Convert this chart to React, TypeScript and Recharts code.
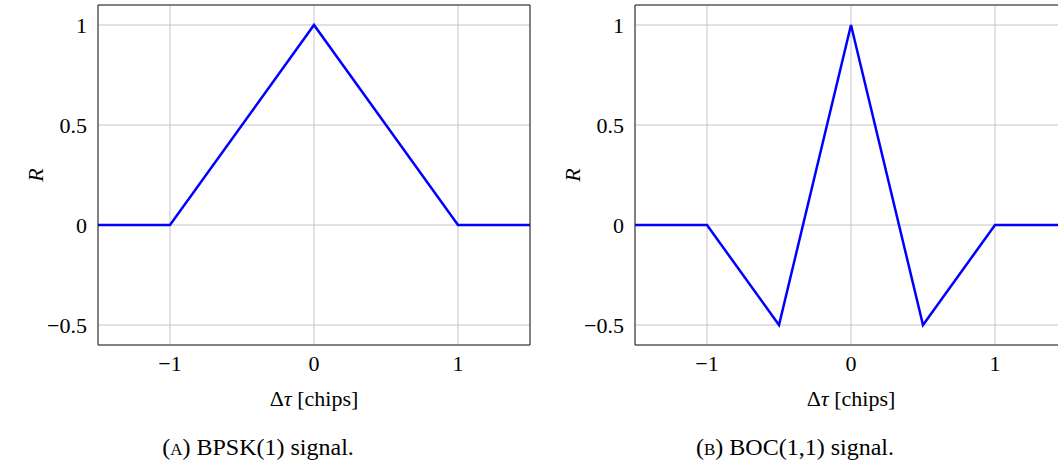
import React from 'react';
import { LineChart, Line, XAxis, YAxis, CartesianGrid } from 'recharts';

// correlation functions, delay in chips
const bpskDelay = [-1.5, -1, 0, 1, 1.5];
const bpskR = [0, 0, 1, 0, 0];
const bocDelay = [-1.5, -1, -0.5, 0, 0.5, 1, 1.5];
const bocR = [0, 0, -0.5, 1, -0.5, 0, 0];

const xTicks = [-1, 0, 1];
const yTicks = [-0.5, 0, 0.5, 1];
const xDomain = [-1.5, 1.5];
const yDomain = [-0.6, 1.1];

const FONT = '"Liberation Serif", "DejaVu Serif", serif';
const fmt = (v: number) => (v < 0 ? `\u2212${Math.abs(v)}` : `${v}`);

const toRows = (xs: number[], ys: number[]) => xs.map((x, i) => ({ x, r: ys[i] }));

const CorrPlot: React.FC<{ data: Array<{ x: number; r: number }> }> = ({ data }) => {
  const tickStyle = { fontFamily: FONT, fontSize: 22, fill: '#000' };
  return (
    <LineChart width={540} height={420} data={data} margin={{ top: 5, right: 10, left: 0, bottom: 0 }}>
      <CartesianGrid xAxisId="b" yAxisId="l" stroke="#c4c4c4" strokeWidth={1} />
      <XAxis
        xAxisId="b"
        dataKey="x"
        type="number"
        domain={xDomain}
        ticks={xTicks}
        allowDataOverflow
        height={75}
        tickSize={0}
        tickMargin={10}
        tickFormatter={fmt}
        tick={tickStyle}
        axisLine={{ stroke: '#222' }}
        label={{
          content: ({ viewBox }: any) => (
            <text
              x={viewBox.x + viewBox.width / 2}
              y={viewBox.y + 61}
              textAnchor="middle"
              fontFamily={FONT}
              fontSize={22}
            >
              {'\u0394'}
              <tspan fontStyle="italic">{'\u03C4'}</tspan>
              {' [chips]'}
            </text>
          ),
        }}
      />
      <XAxis
        xAxisId="bm"
        type="number"
        domain={xDomain}
        ticks={xTicks}
        allowDataOverflow
        mirror
        tickSize={11}
        tick={false}
        axisLine={false}
        tickLine={{ stroke: '#555' }}
      />
      <XAxis
        xAxisId="t"
        orientation="top"
        type="number"
        domain={xDomain}
        ticks={xTicks}
        allowDataOverflow
        mirror
        tickSize={11}
        tick={false}
        axisLine={{ stroke: '#222' }}
        tickLine={{ stroke: '#555' }}
      />
      <YAxis
        yAxisId="l"
        type="number"
        domain={yDomain}
        ticks={yTicks}
        allowDataOverflow
        width={98}
        tickSize={0}
        tickMargin={11}
        tickFormatter={fmt}
        tick={tickStyle}
        axisLine={{ stroke: '#222' }}
        label={{
          content: ({ viewBox }: any) => {
            const cx = viewBox.x + 35;
            const cy = viewBox.y + viewBox.height / 2;
            return (
              <text
                x={cx}
                y={cy}
                transform={`rotate(-90, ${cx}, ${cy})`}
                textAnchor="middle"
                dominantBaseline="central"
                fontFamily={FONT}
                fontStyle="italic"
                fontSize={22}
              >
                R
              </text>
            );
          },
        }}
      />
      <YAxis
        yAxisId="lm"
        type="number"
        domain={yDomain}
        ticks={yTicks}
        allowDataOverflow
        mirror
        tickSize={11}
        tick={false}
        axisLine={false}
        tickLine={{ stroke: '#555' }}
      />
      <YAxis
        yAxisId="r"
        orientation="right"
        type="number"
        domain={yDomain}
        ticks={yTicks}
        allowDataOverflow
        mirror
        tickSize={11}
        tick={false}
        axisLine={{ stroke: '#222' }}
        tickLine={{ stroke: '#555' }}
      />
      <Line
        xAxisId="b"
        yAxisId="l"
        type="linear"
        dataKey="r"
        stroke="#0000ff"
        strokeWidth={2.5}
        dot={false}
        isAnimationActive={false}
      />
    </LineChart>
  );
};

const captionStyle: React.CSSProperties = {
  position: 'absolute',
  top: 434,
  width: 300,
  textAlign: 'center',
  fontFamily: FONT,
  fontSize: 24,
  color: '#000',
  whiteSpace: 'nowrap',
};

const sc: React.CSSProperties = { fontVariant: 'small-caps' };

export default function App() {
  return (
    <div
      style={{
        position: 'fixed',
        left: 0,
        top: 0,
        width: 1058,
        height: 470,
        overflow: 'hidden',
        background: '#fff',
      }}
    >
      <div style={{ position: 'absolute', left: 0, top: 0 }}>
        <CorrPlot data={toRows(bpskDelay, bpskR)} />
      </div>
      <div style={{ position: 'absolute', left: 537, top: 0 }}>
        <CorrPlot data={toRows(bocDelay, bocR)} />
      </div>
      <div style={{ ...captionStyle, left: 108 }}>
        (<span style={sc}>a</span>) BPSK(1) signal.
      </div>
      <div style={{ ...captionStyle, left: 645 }}>
        (<span style={sc}>b</span>) BOC(1,1) signal.
      </div>
    </div>
  );
}
